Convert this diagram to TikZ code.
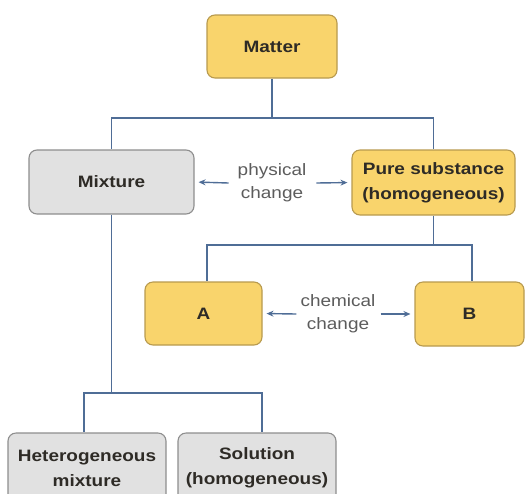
\documentclass[tikz,border=0pt]{standalone}
\usepackage{fontspec}
\setmainfont{Liberation Sans}[FakeStretch=1.15]
\usepackage{tikz}
\usetikzlibrary{arrows.meta}
\usepackage{xcolor}

\definecolor{boxyellow}{HTML}{F9D46C}
\definecolor{edgeyellow}{HTML}{B89A4E}
\definecolor{boxgray}{HTML}{E1E1E1}
\definecolor{edgegray}{HTML}{8E8E8E}
\definecolor{linkblue}{HTML}{4F6D96}
\definecolor{textdark}{HTML}{2E2B26}
\definecolor{textgray}{HTML}{5C5C5C}

\begin{document}
\begin{tikzpicture}[x=1pt,y=-1pt,
		box/.style={rectangle,rounded corners=8pt,draw,line width=1.1pt,inner sep=0pt,align=center,
			font=\fontsize{16.5}{25}\selectfont\bfseries,text=textdark},
		pure/.style={box,fill=boxyellow,draw=edgeyellow},
		mix/.style={box,fill=boxgray,draw=edgegray},
		note/.style={align=center,inner sep=0pt,font=\fontsize{16.5}{23}\selectfont,text=textgray},
		link/.style={draw=linkblue,line width=1.4pt},
		arr/.style={draw=linkblue,line width=1.4pt,-{Stealth[length=7pt,width=6pt]},shorten >=4pt}]
		
		\useasboundingbox (0,0) rectangle (526,493);
		
		\node[pure] (matter) at (272,46.5) [minimum width=130pt,minimum height=63pt] {Matter};
		\node[mix] (mixture) at (111.5,182) [minimum width=165pt,minimum height=64pt] {Mixture};
		\node[pure] (substance) at (433.5,182.5) [minimum width=163pt,minimum height=65pt] {Pure substance\\(homogeneous)};
		\node[pure] (a) at (203.5,313.5) [minimum width=117pt,minimum height=63pt] {A};
		\node[pure] (b) at (469.5,314) [minimum width=109pt,minimum height=64pt] {B};
		% bottom row runs past the lower edge
		\node[mix] (hetero) at (87,468) [minimum width=158pt,minimum height=70pt] {Heterogeneous\\mixture};
		\node[mix] (solution) at (257,468) [minimum width=158pt,minimum height=70pt] {Solution\\(homogeneous)};
		
		\node[note] (physical) at (272,183) {physical\\change};
		\node[note] (chemical) at (338,314) {chemical\\change};
		
		\coordinate (split1) at (272,118);
		\coordinate (split2) at (433.5,245);
		\coordinate (split3) at (111.5,393);
		
		\draw[link] (matter) -- (split1) -| (mixture);
		\draw[link] (split1) -| (substance);
		\draw[link] (substance) -- (split2) -| ([xshift=3.5pt]a.north);
		\draw[link] (split2) -| ([xshift=2.5pt]b.north);
		\draw[link] (mixture) -- (split3) -| ([xshift=-3pt]hetero.north);
		\draw[link] (split3) -| ([xshift=5pt]solution.north);
		
		\draw[arr] ([xshift=-9pt]physical.west) -- (mixture.east);
		\draw[arr] ([xshift=10pt]physical.east) -- (substance.west);
		\draw[arr] ([xshift=-4pt]chemical.west) -- (a.east);
		\draw[arr] ([xshift=5pt]chemical.east) -- (b.west);
	\end{tikzpicture}
\end{document}
